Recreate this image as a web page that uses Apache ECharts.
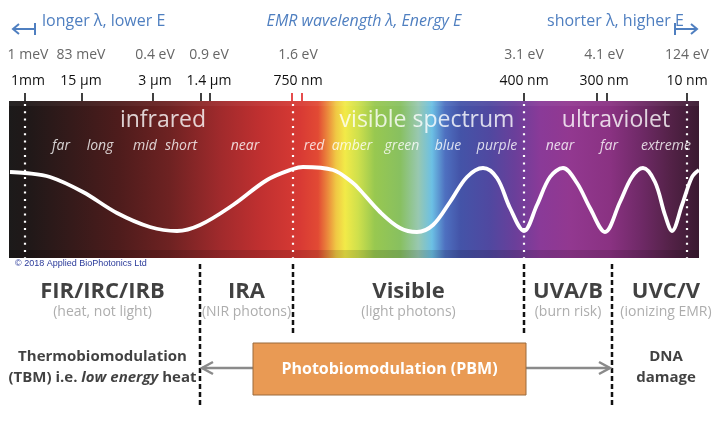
<!DOCTYPE html>
<html><head><meta charset="utf-8">
<script src="https://cdn.jsdelivr.net/npm/echarts@6/dist/echarts.min.js"></script>
<style>html,body{margin:0;padding:0;background:#fff}#c{width:720px;height:421px}</style>
</head><body><div id="c"></div>
<script>
// ---------------- data ----------------
const spectrumRange = [9, 699];
const energyLabels = ['1 meV', '83 meV', '0.4 eV', '0.9 eV', '1.6 eV', '3.1 eV', '4.1 eV', '124 eV'];
const wavelengthLabels = ['1mm', '15 µm', '3 µm', '1.4 µm', '750 nm', '400 nm', '300 nm', '10 nm'];
const labelPositions = [28, 81, 155, 209, 298, 524, 604, 687];
const tickPositions = [25, 82, 153, 201, 210, 524, 597, 607, 687];
const redTickPositions = [292, 302];
const bandDividers = [25, 293, 524, 687];
const bandNames = ['infrared', 'visible spectrum', 'ultraviolet'];
const bandNamePositions = [163, 427, 616];
const subBandNames = ['far', 'long', 'mid', 'short', 'near', 'red', 'amber', 'green', 'blue', 'purple', 'near', 'far', 'extreme'];
const subBandPositions = [61, 100, 145, 181, 245, 314, 352, 402, 448, 497, 560, 609, 666];
const waveX = [10, 25, 50, 83, 117, 150, 177, 200, 233, 267, 293, 303, 333, 353, 360, 380, 400, 417, 433, 450, 467, 483, 497, 510, 524, 537, 550, 563, 577, 590, 605, 620, 632, 643, 655, 665, 672, 682, 692, 699];
const waveY = [86, 85, 81, 66, 45, 31, 27, 33, 53, 78, 89, 91, 88, 75, 68, 46, 30, 26, 33, 56, 81, 90, 80, 50, 27, 53, 81, 90, 75, 50, 26, 56, 81, 90, 76, 43, 27, 53, 81, 88];
const regionBounds = [5, 200, 293, 524, 612, 720];
const regionNames = ['FIR/IRC/IRB', 'IRA', 'Visible', 'UVA/B', 'UVC/V'];
const regionNotes = ['(heat, not light)', '(NIR photons)', '(light photons)', '(burn risk)', '(ionizing EMR)'];
const tallDividers = [200, 612];
const shortDividers = [293, 524];
const pbmRange = [200, 612];
const pbmBox = [253, 526];
const pbmLabel = 'Photobiomodulation (PBM)';

// ---------------- styles / layout ----------------
const BAND_H = 157;      // band grid height (value units)
const LOW_H = 147;       // lower grid height (value units)
const blue = '#4f7fc0';
const FONT = 'Open Sans';

const regionCenters = regionNames.map((_, i) => (regionBounds[i] + regionBounds[i + 1]) / 2);

const spectrumStops = [
  [0, '#1c1a1a'], [0.03, '#201818'], [0.088, '#341a1a'], [0.16, '#4e1c1c'], [0.233, '#6e2222'],
  [0.306, '#a02a2c'], [0.364, '#c03030'], [0.422, '#d83a34'], [0.448, '#e24a34'], [0.462, '#eb8a3c'],
  [0.474, '#f0c844'], [0.487, '#f2ea48'], [0.506, '#cfe04c'], [0.53, '#98c850'], [0.567, '#88c060'],
  [0.593, '#98c8b0'], [0.613, '#6cc0e4'], [0.632, '#4e70c0'], [0.654, '#4454a8'], [0.697, '#5048a0'],
  [0.733, '#6a3f9a'], [0.77, '#8a3a98'], [0.813, '#923890'], [0.871, '#8a3282'], [0.914, '#702a68'],
  [0.958, '#542248'], [1, '#3a1a30']
].map(s => ({offset: s[0], color: s[1]}));

const chart = echarts.init(document.getElementById('c'), null, {renderer: 'canvas'});

function lookup(arr) { return v => { const i = labelPositions.indexOf(v); return i >= 0 ? arr[i] : ''; }; }

const tickData = tickPositions.map(x => [x, 0]).concat(redTickPositions.map(x => [x, 1]));

const option = {
  animation: false,
  backgroundColor: '#fff',
  grid: [
    {left: 0, right: 0, top: 101, height: 157},
    {left: 0, right: 0, top: 258, height: 147}
  ],
  xAxis: [
    {gridIndex: 0, type: 'value', min: 0, max: 720, position: 'top',
      axisLine: {show: false}, splitLine: {show: false}, axisTick: {show: false},
      axisLabel: {show: true, customValues: labelPositions, formatter: lookup(wavelengthLabels), color: '#111', fontSize: 14, fontFamily: FONT, margin: 13}},
    {gridIndex: 0, type: 'value', min: 0, max: 720, position: 'top',
      axisLine: {show: false}, splitLine: {show: false}, axisTick: {show: false},
      axisLabel: {show: true, customValues: labelPositions, formatter: lookup(energyLabels), color: '#666', fontSize: 14, fontFamily: FONT, margin: 39}},
    {gridIndex: 1, type: 'value', min: 0, max: 720, show: false}
  ],
  yAxis: [
    {gridIndex: 0, type: 'value', min: 0, max: BAND_H, show: false},
    {gridIndex: 1, type: 'value', min: 0, max: LOW_H, inverse: true, show: false}
  ],
  graphic: [
    {type: 'text', x: 42, y: 21, style: {text: 'longer λ, lower E', fill: blue, font: '16px "Open Sans"', align: 'left', verticalAlign: 'middle'}},
    {type: 'text', x: 364, y: 21, style: {text: 'EMR wavelength λ, Energy E', fill: blue, font: 'italic 16px "Open Sans"', align: 'center', verticalAlign: 'middle'}},
    {type: 'text', x: 547, y: 21, style: {text: 'shorter λ, higher E', fill: blue, font: '16px "Open Sans"', align: 'left', verticalAlign: 'middle'}},
    {type: 'polyline', shape: {points: [[13, 29], [35, 29]]}, style: {stroke: blue, lineWidth: 2}},
    {type: 'polyline', shape: {points: [[35, 23], [35, 35]]}, style: {stroke: blue, lineWidth: 2}},
    {type: 'polyline', shape: {points: [[19, 24], [13, 29], [19, 34]]}, style: {stroke: blue, lineWidth: 2, fill: null}},
    {type: 'polyline', shape: {points: [[675, 29], [697, 29]]}, style: {stroke: blue, lineWidth: 2}},
    {type: 'polyline', shape: {points: [[675, 23], [675, 35]]}, style: {stroke: blue, lineWidth: 2}},
    {type: 'polyline', shape: {points: [[691, 24], [697, 29], [691, 34]]}, style: {stroke: blue, lineWidth: 2, fill: null}},
    {type: 'text', x: 15, y: 264, style: {text: '© 2018 Applied BioPhotonics Ltd', fill: '#2a3a9a', font: '9px "Liberation Sans"', verticalAlign: 'middle'}}
  ],
  series: [
    // spectrum band
    {type: 'custom', xAxisIndex: 0, yAxisIndex: 0, z: 1, silent: true,
      data: [[spectrumRange[0], spectrumRange[1]]],
      renderItem: function (params, api) {
        const p0 = api.coord([api.value(0), BAND_H]);
        const p1 = api.coord([api.value(1), 0]);
        const ps = api.coord([api.value(0), 8]);
        const w = p1[0] - p0[0];
        return {type: 'group', children: [
          {type: 'rect', shape: {x: p0[0], y: p0[1], width: w, height: p1[1] - p0[1]},
            style: {fill: new echarts.graphic.LinearGradient(0, 0, 1, 0, spectrumStops)}},
          {type: 'rect', shape: {x: p0[0], y: ps[1], width: w, height: p1[1] - ps[1]},
            style: {fill: 'rgba(0,0,0,0.13)'}},
          {type: 'rect', shape: {x: p0[0], y: p0[1], width: w, height: 5},
            style: {fill: 'rgba(255,255,255,0.05)'}}
        ]};
      }},
    // ticks above band
    {type: 'custom', xAxisIndex: 0, yAxisIndex: 0, z: 3, silent: true, clip: false,
      data: tickData,
      renderItem: function (params, api) {
        const a = api.coord([api.value(0), BAND_H]);
        const red = api.value(1) === 1;
        return {type: 'line', shape: {x1: a[0], y1: a[1] - 8, x2: a[0], y2: a[1]},
          style: {stroke: red ? '#e02020' : '#111', lineWidth: 1.6}};
      }},
    // dotted dividers in band
    {type: 'custom', xAxisIndex: 0, yAxisIndex: 0, z: 3, silent: true,
      data: bandDividers.map(x => [x]),
      renderItem: function (params, api) {
        const a = api.coord([api.value(0), BAND_H]);
        const b = api.coord([api.value(0), 0]);
        return {type: 'line', shape: {x1: a[0], y1: a[1] + 3, x2: b[0], y2: b[1]},
          style: {stroke: '#fff', lineWidth: 2.2, lineDash: [2, 5.3]}};
      }},
    // wave
    {type: 'line', xAxisIndex: 0, yAxisIndex: 0, z: 5, silent: true,
      data: waveX.map((x, i) => [x, waveY[i]]), smooth: 0.35, symbol: 'none',
      lineStyle: {color: '#fff', width: 3.8}},
    // band names
    {type: 'scatter', xAxisIndex: 0, yAxisIndex: 0, z: 6, silent: true, symbolSize: 0,
      data: bandNames.map((n, i) => ({name: n, value: [bandNamePositions[i], 138]})),
      label: {show: true, position: 'inside', formatter: '{b}', color: '#fff', fontSize: 23, fontFamily: FONT}},
    {type: 'scatter', xAxisIndex: 0, yAxisIndex: 0, z: 6, silent: true, symbolSize: 0,
      data: subBandNames.map((n, i) => ({name: n, value: [subBandPositions[i], 112]})),
      label: {show: true, position: 'inside', formatter: '{b}', color: '#fff', fontSize: 14, fontStyle: 'italic', fontFamily: FONT}},
    // dashed region dividers
    {type: 'custom', xAxisIndex: 2, yAxisIndex: 1, z: 3, silent: true,
      data: tallDividers.map(x => [x, 6, LOW_H]).concat(shortDividers.map(x => [x, 6, 75])),
      renderItem: function (params, api) {
        const a = api.coord([api.value(0), api.value(1)]);
        const b = api.coord([api.value(0), api.value(2)]);
        return {type: 'line', shape: {x1: a[0], y1: a[1], x2: b[0], y2: b[1]},
          style: {stroke: '#111', lineWidth: 2.5, lineDash: [5, 3]}};
      }},
    // region names
    {type: 'scatter', xAxisIndex: 2, yAxisIndex: 1, z: 6, silent: true, symbolSize: 0,
      data: regionNames.map((n, i) => ({name: n, value: [regionCenters[i], 34]})),
      label: {show: true, position: 'inside', formatter: '{b}', color: '#111', fontSize: 22, fontWeight: 'bold', fontFamily: FONT}},
    {type: 'scatter', xAxisIndex: 2, yAxisIndex: 1, z: 6, silent: true, symbolSize: 0,
      data: regionNotes.map((n, i) => ({name: n, value: [regionCenters[i], 54]})),
      label: {show: true, position: 'inside', formatter: '{b}', color: '#999', fontSize: 14, fontFamily: FONT}},
    // effect labels
    {type: 'scatter', xAxisIndex: 2, yAxisIndex: 1, z: 6, silent: true, symbolSize: 0,
      data: [
        {name: 'tbm', value: [regionCenters[0], 109.5]},
        {name: 'dna', value: [regionCenters[4], 109.5]}
      ],
      label: {show: true, position: 'inside', fontFamily: FONT, color: '#111',
        formatter: p => p.name === 'tbm'
          ? '{b|Thermobiomodulation}\n{b|(TBM) i.e. }{i|low energy}{b| heat}'
          : '{b|DNA}\n{b|damage}',
        rich: {
          b: {fontSize: 15, fontWeight: 'bold', fontFamily: FONT, color: '#111', lineHeight: 21},
          i: {fontSize: 15, fontWeight: 'bold', fontStyle: 'italic', fontFamily: FONT, color: '#111', lineHeight: 21}
        }}},
    // PBM arrows
    {type: 'custom', xAxisIndex: 2, yAxisIndex: 1, z: 4, silent: true,
      data: [[pbmBox[0], pbmRange[0] + 2, 110], [pbmBox[1], pbmRange[1] - 2, 110]],
      renderItem: function (params, api) {
        const a = api.coord([api.value(0), api.value(2)]);
        const b = api.coord([api.value(1), api.value(2)]);
        const d = b[0] < a[0] ? 1 : -1;
        return {type: 'group', children: [
          {type: 'line', shape: {x1: a[0], y1: a[1], x2: b[0], y2: b[1]}, style: {stroke: '#8a8a8a', lineWidth: 2.5}},
          {type: 'polyline', shape: {points: [[b[0] + d * 11, b[1] - 6], [b[0], b[1]], [b[0] + d * 11, b[1] + 6]]},
            style: {stroke: '#8a8a8a', lineWidth: 2.5, fill: null}}
        ]};
      }},
    // PBM box
    {type: 'custom', xAxisIndex: 2, yAxisIndex: 1, z: 5, silent: true,
      data: [[pbmBox[0], pbmBox[1], 85, 137]],
      renderItem: function (params, api) {
        const a = api.coord([api.value(0), api.value(2)]);
        const b = api.coord([api.value(1), api.value(3)]);
        return {type: 'group', children: [
          {type: 'rect', shape: {x: a[0], y: a[1], width: b[0] - a[0], height: b[1] - a[1]},
            style: {fill: '#e99a54', stroke: '#9a6a3c', lineWidth: 1}},
          {type: 'text', style: {text: pbmLabel, x: (a[0] + b[0]) / 2, y: (a[1] + b[1]) / 2,
            align: 'center', verticalAlign: 'middle', fill: '#fff', font: 'bold 16px "Open Sans"'}}
        ]};
      }}
  ]
};
chart.setOption(option);
</script></body></html>
